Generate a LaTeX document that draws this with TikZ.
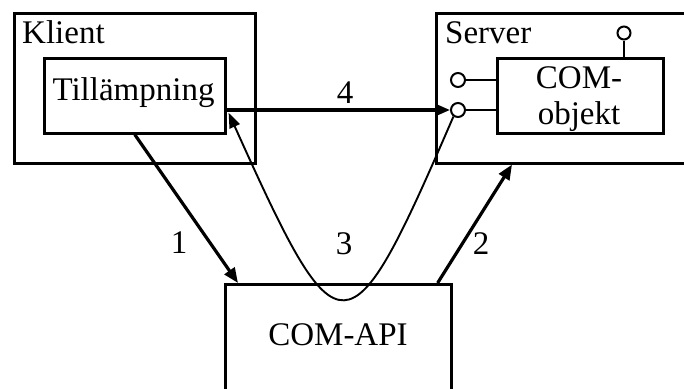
\documentclass[tikz,border=0pt]{standalone}
\usepackage{fontspec}
\setmainfont{Liberation Serif}
\usetikzlibrary{arrows.meta,calc}
\begin{document}
\begin{tikzpicture}[x=1pt,y=-1pt,
  every node/.style={font=\fontsize{33}{36}\selectfont, inner sep=0pt},
  frame/.style={draw, line width=2.6pt, anchor=north west},
  port/.style={draw, circle, line width=2pt, fill=white, minimum size=14pt},
  stem/.style={line width=2pt},
  flow/.style={line width=3.2pt, -{Triangle[length=15pt,width=12pt]}},
  callback/.style={line width=1.9pt, -{Triangle[length=15pt,width=11pt]}},
  lbl/.style={anchor=base}]
\useasboundingbox (0,0) rectangle (684,388);
\clip (0,0) rectangle (684,388);

% client process
\node[frame, minimum width=241pt, minimum height=150pt] (klient) at (13,12) {};
\node[anchor=base west] (klientlbl) at (22,43) {Klient};
\node[frame, minimum width=181pt, minimum height=75pt] (tapp) at (43,57) {};
\node[lbl] (tapptxt) at (133.5,100) {Tillämpning};

% server process, running past the right border
\node[frame, minimum width=280pt, minimum height=150pt] (server) at (435,12) {};
\node[anchor=base west] (serverlbl) at (445,43) {Server};
\node[frame, minimum width=166pt, minimum height=75pt] (comobj) at (496,57) {};
\node[lbl, align=center] (comtxt) at (579,124) {COM-\\objekt};

% interfaces of the COM object
\node[port, minimum size=13pt] (ptop) at (624,33) {};
\node[port] (p1) at (458,80) {};
\node[port] (p2) at (458,110) {};
\draw[stem] (ptop.south) -- (ptop.south |- comobj.north);
\draw[stem] (p1.east) -- (p1.east -| comobj.west);
\draw[stem] (p2.east) -- (p2.east -| comobj.west);

% runtime library
\node[frame, minimum width=226pt, minimum height=130pt] (capi) at (224,283) {};
\node[lbl] (capitxt) at (338,345) {COM-API};

% calls
\coordinate (c1) at ($(capi.north west)+(14,0)$);
\coordinate (c2s) at ($(capi.north east)+(-15,0)$);
\coordinate (c2e) at ($(server.south west)+(77,0)$);
\coordinate (c3e) at ($(tapp.east)+(2,17)$);
\draw[flow] (tapp.south) -- (c1);
\draw[flow] (c2s) -- (c2e);
\draw[flow] (tapp.east |- p2.west) -- (p2.west);
\draw[callback] (p2.235) .. controls (348,360) and (340,360) .. (c3e);

\node[lbl] (n1) at (179,253) {1};
\node[lbl] (n2) at (481,254) {2};
\node[lbl] (n3) at (344,254) {3};
\node[lbl] (n4) at (345,103) {4};
\end{tikzpicture}
\end{document}
